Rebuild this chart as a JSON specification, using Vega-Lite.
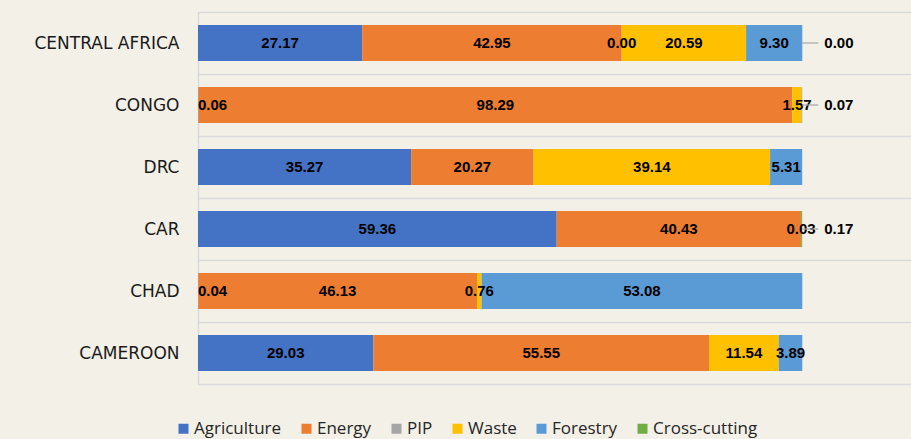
{
  "$schema": "https://vega.github.io/schema/vega-lite/v6.json",
  "width": 713,
  "height": 372,
  "autosize": {"type": "none"},
  "padding": {"left": 198, "top": 12, "right": 0, "bottom": 55},
  "background": "#F2F0E7",
  "config": {"view": {"stroke": null}, "font": "Liberation Sans"},
  "data": {
    "values": [
      {"region": "CENTRAL AFRICA", "sector": "Agriculture", "value": 27.17},
      {"region": "CENTRAL AFRICA", "sector": "Energy", "value": 42.95},
      {"region": "CENTRAL AFRICA", "sector": "PIP", "value": 0.0},
      {"region": "CENTRAL AFRICA", "sector": "Waste", "value": 20.59},
      {"region": "CENTRAL AFRICA", "sector": "Forestry", "value": 9.30},
      {"region": "CENTRAL AFRICA", "sector": "Cross-cutting", "value": 0.0},
      {"region": "CONGO", "sector": "Agriculture", "value": 0.06},
      {"region": "CONGO", "sector": "Energy", "value": 98.29},
      {"region": "CONGO", "sector": "Waste", "value": 1.57},
      {"region": "CONGO", "sector": "Forestry", "value": 0.07},
      {"region": "DRC", "sector": "Agriculture", "value": 35.27},
      {"region": "DRC", "sector": "Energy", "value": 20.27},
      {"region": "DRC", "sector": "Waste", "value": 39.14},
      {"region": "DRC", "sector": "Forestry", "value": 5.31},
      {"region": "CAR", "sector": "Agriculture", "value": 59.36},
      {"region": "CAR", "sector": "Energy", "value": 40.43},
      {"region": "CAR", "sector": "Waste", "value": 0.03},
      {"region": "CAR", "sector": "Cross-cutting", "value": 0.17},
      {"region": "CHAD", "sector": "Agriculture", "value": 0.04},
      {"region": "CHAD", "sector": "Energy", "value": 46.13},
      {"region": "CHAD", "sector": "Waste", "value": 0.76},
      {"region": "CHAD", "sector": "Forestry", "value": 53.08},
      {"region": "CAMEROON", "sector": "Agriculture", "value": 29.03},
      {"region": "CAMEROON", "sector": "Energy", "value": 55.55},
      {"region": "CAMEROON", "sector": "Waste", "value": 11.54},
      {"region": "CAMEROON", "sector": "Forestry", "value": 3.89}
    ]
  },
  "transform": [
    {"calculate": "indexof(['Agriculture','Energy','PIP','Waste','Forestry','Cross-cutting'], datum.sector)", "as": "order"},
    {"stack": "value", "groupby": ["region"], "sort": [{"field": "order", "order": "ascending"}], "as": ["x0", "x1"]},
    {"calculate": "(datum.x0 + datum.x1) / 2", "as": "xm"}
  ],
  "encoding": {
    "y": {
      "field": "region",
      "type": "nominal",
      "sort": ["CENTRAL AFRICA", "CONGO", "DRC", "CAR", "CHAD", "CAMEROON"],
      "scale": {"paddingInner": 0, "paddingOuter": 0},
      "axis": {
        "title": null,
        "grid": true,
        "tickBand": "extent",
        "gridColor": "#D9D9D9",
        "gridWidth": 1.5,
        "domainColor": "#D9D9D9",
        "domainWidth": 1.5,
        "ticks": false,
        "labelFont": "DejaVu Sans",
        "labelFontSize": 17,
        "labelColor": "#1a1a1a",
        "labelPadding": 19
      }
    }
  },
  "layer": [
    {
      "mark": {"type": "bar", "height": {"band": 0.58}},
      "encoding": {
        "x": {"field": "x0", "type": "quantitative", "scale": {"domain": [0, 118], "nice": false}, "axis": null},
        "x2": {"field": "x1"},
        "color": {
          "field": "sector",
          "type": "nominal",
          "scale": {
            "domain": ["Agriculture", "Energy", "PIP", "Waste", "Forestry", "Cross-cutting"],
            "range": ["#4472C4", "#ED7D31", "#A5A5A5", "#FFC000", "#5B9BD5", "#70AD47"]
          },
          "legend": {
            "title": null,
            "orient": "none",
            "direction": "horizontal",
            "legendX": -23,
            "legendY": 408,
            "symbolType": "square",
            "symbolSize": 100,
            "symbolStrokeWidth": 0,
            "labelFont": "Open Sans",
            "labelFontSize": 17,
            "labelColor": "#262626",
            "labelOffset": 2,
            "columnPadding": 16
          }
        }
      }
    },
    {
      "transform": [
        {"filter": "!((datum.region=='CENTRAL AFRICA' && datum.sector=='Cross-cutting') || (datum.region=='CONGO' && datum.sector=='Forestry') || (datum.region=='CAR' && datum.sector=='Cross-cutting'))"},
        {"filter": "!(datum.x0 == 0 && datum.value < 1)"}
      ],
      "mark": {"type": "text", "fontWeight": "bold", "fontSize": 15, "color": "#000000", "baseline": "middle"},
      "encoding": {
        "x": {"field": "xm", "type": "quantitative"},
        "text": {"field": "value", "type": "quantitative", "format": ".2f"}
      }
    },
    {
      "transform": [{"filter": "datum.x0 == 0 && datum.value < 1"}],
      "mark": {"type": "text", "fontWeight": "bold", "fontSize": 15, "color": "#000000", "baseline": "middle", "align": "left", "dx": 0},
      "encoding": {
        "x": {"field": "x0", "type": "quantitative"},
        "text": {"field": "value", "type": "quantitative", "format": ".2f"}
      }
    },
    {
      "transform": [{"filter": "(datum.region=='CENTRAL AFRICA' && datum.sector=='Cross-cutting') || (datum.region=='CONGO' && datum.sector=='Forestry') || (datum.region=='CAR' && datum.sector=='Cross-cutting')"}],
      "mark": {"type": "rule", "color": "#A6A6A6", "strokeWidth": 1.2, "x2Offset": 16},
      "encoding": {
        "x": {"field": "x1", "type": "quantitative"},
        "x2": {"field": "x1"}
      }
    },
    {
      "transform": [{"filter": "(datum.region=='CENTRAL AFRICA' && datum.sector=='Cross-cutting') || (datum.region=='CONGO' && datum.sector=='Forestry') || (datum.region=='CAR' && datum.sector=='Cross-cutting')"}],
      "mark": {"type": "text", "fontWeight": "bold", "fontSize": 15, "color": "#000000", "baseline": "middle", "align": "left", "dx": 22},
      "encoding": {
        "x": {"field": "x1", "type": "quantitative"},
        "text": {"field": "value", "type": "quantitative", "format": ".2f"}
      }
    }
  ]
}
